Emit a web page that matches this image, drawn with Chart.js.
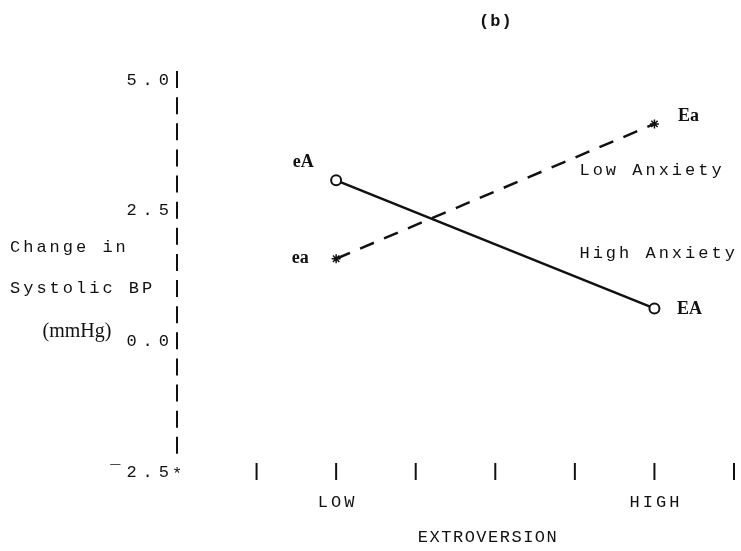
<!DOCTYPE html>
<html>
<head>
<meta charset="utf-8">
<script src="https://cdn.jsdelivr.net/npm/chart.js@4.4.1/dist/chart.umd.min.js"></script>
<style>
  html, body { margin: 0; padding: 0; background: #fff; overflow: hidden; }
  #graphic { display: block; }
</style>
</head>
<body>
<canvas id="graphic" width="741" height="551"></canvas>
<script>
// extroversion levels and where they sit on the typed axis (tick slots 1..7)
const extroversion = ["LOW", "HIGH"];
const levelSlot = [2, 6];
const xTickSlots = [1, 2, 3, 4, 5, 6, 7];

// change in systolic BP (mmHg)
const highAnxiety = [3.08, 0.63];
const lowAnxiety = [1.58, 4.16];
const highNames = ["eA", "EA"];
const lowNames = ["ea", "Ea"];

const yTicks = [5.0, 2.5, 0.0, -2.5];
const yTickText = ["5.0", "2.5", "0.0", "\u00AF2.5"];

const MONO = "Liberation Mono, DejaVu Sans Mono, monospace";
const SERIF = "Liberation Serif, DejaVu Serif, serif";
const INK = "#111";

function typeText(ctx, txt, x, y, align, size, spacing, bold) {
  ctx.save();
  ctx.font = (bold ? "bold " : "") + size + "px " + MONO;
  ctx.letterSpacing = spacing + "px";
  ctx.fillStyle = INK;
  ctx.textBaseline = "middle";
  let w = ctx.measureText(txt).width - spacing;
  let left = align === "right" ? x - w : align === "center" ? x - w / 2 : x;
  ctx.textAlign = "left";
  ctx.fillText(txt, left, y);
  ctx.restore();
}

function serifText(ctx, txt, x, y, size, bold) {
  ctx.save();
  ctx.font = (bold ? "bold " : "") + size + "px " + SERIF;
  ctx.fillStyle = INK;
  ctx.textBaseline = "middle";
  ctx.textAlign = "center";
  ctx.fillText(txt, x, y);
  ctx.restore();
}

const typewriter = {
  id: "typewriter",
  afterDatasetsDraw(chart) {
    const { ctx, scales: { x, y } } = chart;
    const x0 = x.getPixelForValue(0);

    // dashed y axis made of typed bars, one per half unit
    ctx.save();
    ctx.strokeStyle = INK;
    ctx.lineWidth = 2;
    for (let v = 5.0; v > -2.5 + 0.01; v -= 0.5) {
      const py = y.getPixelForValue(v);
      ctx.beginPath();
      ctx.moveTo(x0, py - 9);
      ctx.lineTo(x0, py + 8);
      ctx.stroke();
    }
    // x ticks on the bottom row
    const yb = y.getPixelForValue(-2.5);
    xTickSlots.forEach((s) => {
      const px = x.getPixelForValue(s);
      ctx.beginPath();
      ctx.moveTo(px, yb - 9);
      ctx.lineTo(px, yb + 8);
      ctx.stroke();
    });
    ctx.restore();
    typeText(ctx, "*", x0 - 5, yb + 2, "left", 17, 0, false);

    yTicks.forEach((v, i) => {
      typeText(ctx, yTickText[i], x0 - 8, y.getPixelForValue(v), "right", 17, 6, false);
    });

    extroversion.forEach((lab, i) => {
      typeText(ctx, lab, x.getPixelForValue(levelSlot[i]), yb + 30, "center", 17, 3, false);
    });
    typeText(ctx, "EXTROVERSION", x.getPixelForValue(4) - 8, yb + 65, "center", 17, 1.5, false);

    // y axis title
    typeText(ctx, "Change in", 10, 247, "left", 17, 3, false);
    typeText(ctx, "Systolic BP", 10, 288, "left", 17, 3, false);
    serifText(ctx, "(mmHg)", 77, 332, 20, false);

    typeText(ctx, "(b)", x.getPixelForValue(4), 22, "center", 17, 1, true);

    // point names
    const pt = (i, v) => [x.getPixelForValue(levelSlot[i]), y.getPixelForValue(v)];
    let p = pt(0, highAnxiety[0]);
    serifText(ctx, highNames[0], p[0] - 33, p[1] - 18, 18, true);
    p = pt(1, highAnxiety[1]);
    serifText(ctx, highNames[1], p[0] + 35, p[1] + 1, 18, true);
    p = pt(0, lowAnxiety[0]);
    serifText(ctx, lowNames[0], p[0] - 36, p[1], 18, true);
    p = pt(1, lowAnxiety[1]);
    serifText(ctx, lowNames[1], p[0] + 34, p[1] - 8, 18, true);

    // series labels
    const lx = x.getPixelForValue(levelSlot[1]) - 75;
    typeText(ctx, "Low Anxiety", lx, y.getPixelForValue(3.26), "left", 17, 3, false);
    typeText(ctx, "High Anxiety", lx, y.getPixelForValue(1.68), "left", 17, 3, false);
  },
};

const toPoints = (vals) => vals.map((v, i) => ({ x: levelSlot[i], y: v }));

new Chart(document.getElementById("graphic"), {
  type: "line",
  data: {
    datasets: [
      {
        label: "High Anxiety",
        data: toPoints(highAnxiety),
        borderColor: INK,
        borderWidth: 2.5,
        pointStyle: "circle",
        pointRadius: 5,
        pointBorderWidth: 2,
        pointBackgroundColor: "#fff",
        pointBorderColor: INK,
      },
      {
        label: "Low Anxiety",
        data: toPoints(lowAnxiety),
        borderColor: INK,
        borderWidth: 2.5,
        borderDash: [15, 11],
        pointStyle: "star",
        pointRadius: 4.5,
        pointBorderWidth: 1.5,
        pointBorderColor: INK,
      },
    ],
  },
  options: {
    responsive: false,
    animation: false,
    devicePixelRatio: 1,
    layout: { padding: { left: 177, right: 4, top: 80, bottom: 79 } },
    plugins: { legend: { display: false }, tooltip: { enabled: false } },
    scales: {
      x: { type: "linear", min: 0, max: 7, display: false },
      y: { type: "linear", min: -2.5, max: 5.0, display: false },
    },
  },
  plugins: [typewriter],
});
</script>
</body>
</html>
